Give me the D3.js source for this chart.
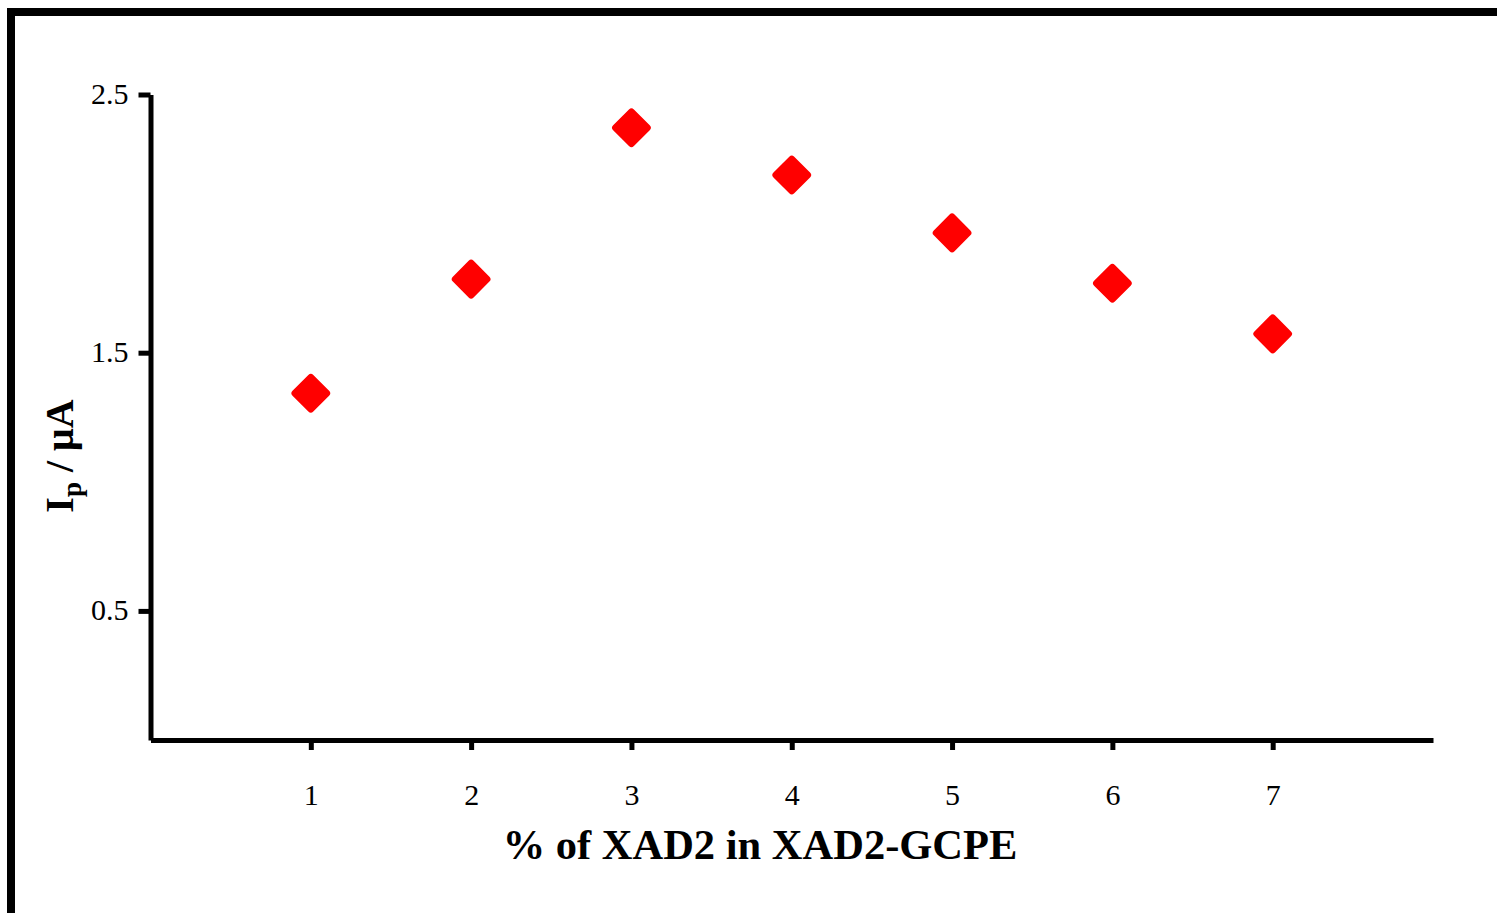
<!DOCTYPE html>
<html>
<head>
<meta charset="utf-8">
<script src="https://cdn.jsdelivr.net/npm/d3@7"></script>
<style>
  html, body { margin: 0; padding: 0; background: #fff; }
  svg { display: block; }
</style>
</head>
<body>
<script>
// ---- data ----
const xCategories = [1, 2, 3, 4, 5, 6, 7];
const ipValues = [1.343, 1.785, 2.371, 2.188, 1.964, 1.769, 1.573];
const yTickValues = [0.5, 1.5, 2.5];
const xTickValues = [1, 2, 3, 4, 5, 6, 7];
const xAxisTitle = "% of XAD2 in XAD2-GCPE";

const W = 1497, H = 913;
const svg = d3.select("body").append("svg").attr("width", W).attr("height", H);

// outer frame (only top & left visible)
svg.append("rect")
  .attr("x", 11).attr("y", 12)
  .attr("width", W + 40).attr("height", H + 40)
  .attr("fill", "none").attr("stroke", "#000").attr("stroke-width", 8);

const x = d3.scaleLinear().domain([0, 8]).range([150.5, 1433]);
const y = d3.scaleLinear().domain([0, 2.5]).range([740, 94.5]);

const font = "'Liberation Serif', 'Times New Roman', serif";

// Y axis
const yAxis = svg.append("g").attr("transform", `translate(${x(0)},0)`)
  .call(d3.axisLeft(y).tickValues(yTickValues).tickSize(12).tickSizeOuter(0).tickPadding(10)
        .tickFormat(d3.format(".1f")));
yAxis.select(".domain").attr("stroke-width", 5).attr("stroke", "#000");
yAxis.selectAll(".tick line").attr("stroke-width", 5).attr("stroke", "#000");
yAxis.selectAll(".tick text").attr("font-family", font).attr("font-size", 30).attr("fill", "#000")
  .attr("dy", "0.3em");

// X axis
const xAxis = svg.append("g").attr("transform", `translate(0,${y(0)})`)
  .call(d3.axisBottom(x).tickValues(xTickValues).tickSize(10).tickSizeOuter(0).tickPadding(34)
        .tickFormat(d3.format("d")));
xAxis.select(".domain").attr("stroke-width", 5).attr("stroke", "#000");
xAxis.selectAll(".tick line").attr("stroke-width", 5).attr("stroke", "#000");
xAxis.selectAll(".tick text").attr("font-family", font).attr("font-size", 30).attr("fill", "#000");

// points: red diamonds with rounded corners
const sym = d3.symbol().type(d3.symbolSquare).size(500);
svg.append("g").selectAll("path")
  .data(xCategories.map((c, i) => ({ c, v: ipValues[i] })))
  .join("path")
  .attr("d", sym)
  .attr("transform", d => `translate(${x(d.c)},${y(d.v)}) rotate(45)`)
  .attr("fill", "#ff0000")
  .attr("stroke", "#ff0000")
  .attr("stroke-width", 7)
  .attr("stroke-linejoin", "round");

// X axis title
svg.append("text")
  .attr("x", 760).attr("y", 859)
  .attr("text-anchor", "middle")
  .attr("font-family", font).attr("font-weight", "bold").attr("font-size", 42.5)
  .attr("fill", "#000")
  .text(xAxisTitle);

// Y axis title: I_p / μA
const yt = svg.append("text")
  .attr("transform", "translate(73,456) rotate(-90)")
  .attr("text-anchor", "middle")
  .attr("font-family", font).attr("font-weight", "bold").attr("font-size", 40)
  .attr("fill", "#000");
yt.append("tspan").text("I");
yt.append("tspan").attr("font-size", 27).attr("dy", 8).text("p");
yt.append("tspan").attr("dy", -8).text(" / μA");
</script>
</body>
</html>
